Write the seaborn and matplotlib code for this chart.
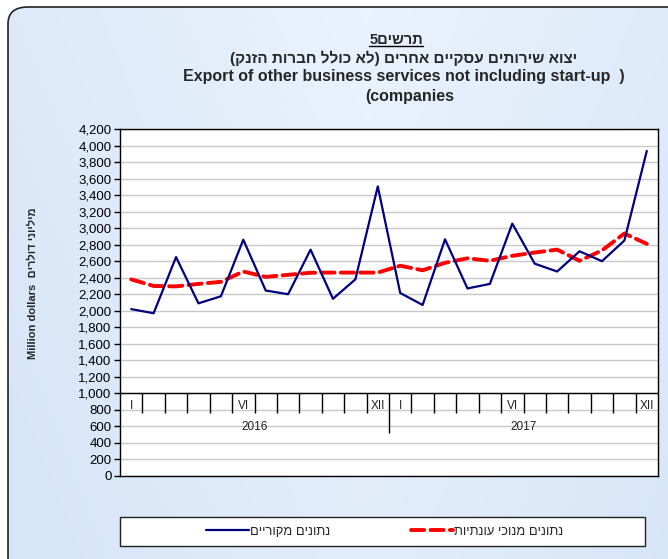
import numpy as np
import pandas as pd
import seaborn as sns
import matplotlib.pyplot as plt
from matplotlib.patches import FancyBboxPatch, Rectangle
from matplotlib.lines import Line2D
from matplotlib.ticker import MultipleLocator, FuncFormatter

# monthly data, Jan 2016 - Dec 2017 (million dollars)
months = list(range(24))
original = [2020, 1970, 2650, 2090, 2175, 2860, 2245, 2200, 2740, 2145, 2380, 3505,
            2215, 2070, 2865, 2270, 2325, 3055, 2570, 2475, 2720, 2600, 2850, 3935]
seasonal_adj = [2380, 2300, 2295, 2325, 2350, 2475, 2410, 2435, 2460, 2462, 2462, 2462,
                2545, 2490, 2580, 2635, 2605, 2665, 2705, 2740, 2605, 2730, 2935, 2810]
month_labels = {0: 'I', 5: 'VI', 11: 'XII'}
years = ['2016', '2017']

name_orig = 'נתונים מקוריים'
name_sa = 'נתונים מנוכי עונתיות'


def heb(s):
    # matplotlib has no bidi, so flip RTL text by hand
    swap = {'(': ')', ')': '('}
    return ''.join(swap.get(c, c) for c in s[::-1])


sns.set_theme(style='white')
plt.rcParams['font.family'] = ['Liberation Sans', 'DejaVu Sans']

fig = plt.figure(figsize=(6.68, 5.59), dpi=100)
fig.patch.set_facecolor('white')

# light blue rounded background panel
bg = fig.add_axes([0, 0, 1, 1], zorder=-5)
bg.set_axis_off()
gx = np.linspace(0, 1, 200)
gy = np.linspace(0, 1, 200)
X, Y = np.meshgrid(gx, gy)
c0 = np.array([0.84, 0.90, 0.97])
c1 = np.array([0.92, 0.95, 0.99])
t = np.clip(0.6 * np.abs(X - 0.55) * 2 + 0.4 * Y, 0, 1)[..., None]
img = c1 * (1 - t) + c0 * t
panel = FancyBboxPatch((8 / 668, -20 / 559), 700 / 668, (559 - 7 + 20) / 559,
                       boxstyle='round,pad=0,rounding_size=0.03',
                       transform=fig.transFigure, facecolor='none',
                       edgecolor='#222222', lw=1.2, zorder=2)
bg.add_patch(panel)
im = bg.imshow(img, extent=[0, 1, 0, 1], origin='upper', aspect='auto',
               transform=fig.transFigure)
im.set_clip_path(panel)
bg.set_xlim(0, 1)
bg.set_ylim(0, 1)

ax = fig.add_axes([120 / 668, 83 / 559, 538 / 668, 347 / 559])
ax.set_facecolor('white')

df = pd.DataFrame({'month': months, 'orig': original, 'sa': seasonal_adj})
sns.lineplot(data=df, x='month', y='orig', ax=ax, color='#000080', lw=1.6,
             label=heb(name_orig), zorder=4)
sns.lineplot(data=df, x='month', y='sa', ax=ax, color='#ff0000', lw=2.8,
             linestyle=(0, (3.4, 1.6)), dash_capstyle='round',
             label=heb(name_sa), zorder=3)

ax.set_xlim(-0.5, 23.5)
ax.set_ylim(0, 4200)
ax.yaxis.set_major_locator(MultipleLocator(200))
ax.yaxis.set_major_formatter(FuncFormatter(lambda v, p: f'{int(v):,}'))
ax.tick_params(axis='y', labelsize=9.5, length=4, width=1, color='black',
               left=True, pad=2, labelcolor='black')
ax.set_xticks([])
ax.set_xlabel('')
ax.set_ylabel('')
ax.grid(axis='y', color='#c8c8c8', lw=1)
for sp in ax.spines.values():
    sp.set_visible(True)
    sp.set_color('black')
    sp.set_linewidth(1)

# category axis drawn at 1,000
ax.axhline(1000, color='black', lw=1, zorder=5)
ax.vlines([k + 0.5 for k in range(23) if k != 11], 760, 1000, color='black', lw=1, zorder=5)
ax.vlines([11.5], 520, 1000, color='black', lw=1, zorder=5)
for yr in range(2):
    for m, lab in month_labels.items():
        ax.text(yr * 12 + m, 850, lab, ha='center', va='center', fontsize=8.5,
                color='#222222', zorder=6)
    ax.text(yr * 12 + 5.5, 593, years[yr], ha='center', va='center', fontsize=8.5,
            color='#222222', zorder=6)

ax.get_legend().remove()

# legend box at bottom
fig.patches.append(Rectangle((120 / 668, 13 / 559), 525 / 668, 29 / 559,
                             transform=fig.transFigure, facecolor='white',
                             edgecolor='#222222', lw=1))
h1 = Line2D([], [], color='#000080', lw=1.6)
h2 = Line2D([], [], color='#ff0000', lw=2.8, linestyle=(0, (3.4, 1.6)),
            dash_capstyle='round')
fig.legend([h1, h2], [heb(name_orig), heb(name_sa)], ncol=2, frameon=False,
           loc='center', bbox_to_anchor=(385 / 668, 27.5 / 559), fontsize=9.3,
           handlelength=3.3, handletextpad=0.1, columnspacing=6.2)

# titles
tx = 404 / 668
t1 = fig.text(396 / 668, 1 - 40 / 559, '5' + heb('תרשים'), ha='center', va='center',
              fontsize=10.5, fontweight='bold')
fig.text(tx, 1 - 58 / 559, heb('יצוא שירותים עסקיים אחרים (לא כולל חברות הזנק)'),
         ha='center', va='center', fontsize=11, fontweight='bold')
fig.text(tx, 1 - 76 / 559, 'Export of other business services not including start-up  )',
         ha='center', va='center', fontsize=11.5, fontweight='bold')
fig.text(410 / 668, 1 - 96 / 559, '(companies', ha='center', va='center',
         fontsize=11.5, fontweight='bold')
fig.text(33 / 668, 1 - 283 / 559, 'Million dollars  ' + heb('מיליוני דולרים'),
         rotation=90, ha='center', va='center', fontsize=8, fontweight='bold')

fig.canvas.draw()
bb = t1.get_window_extent().transformed(fig.transFigure.inverted())
fig.lines.append(Line2D([bb.x0, bb.x1], [bb.y0 + 0.002, bb.y0 + 0.002],
                        transform=fig.transFigure, color='black', lw=1))

fig.savefig('out.png', dpi=100)
